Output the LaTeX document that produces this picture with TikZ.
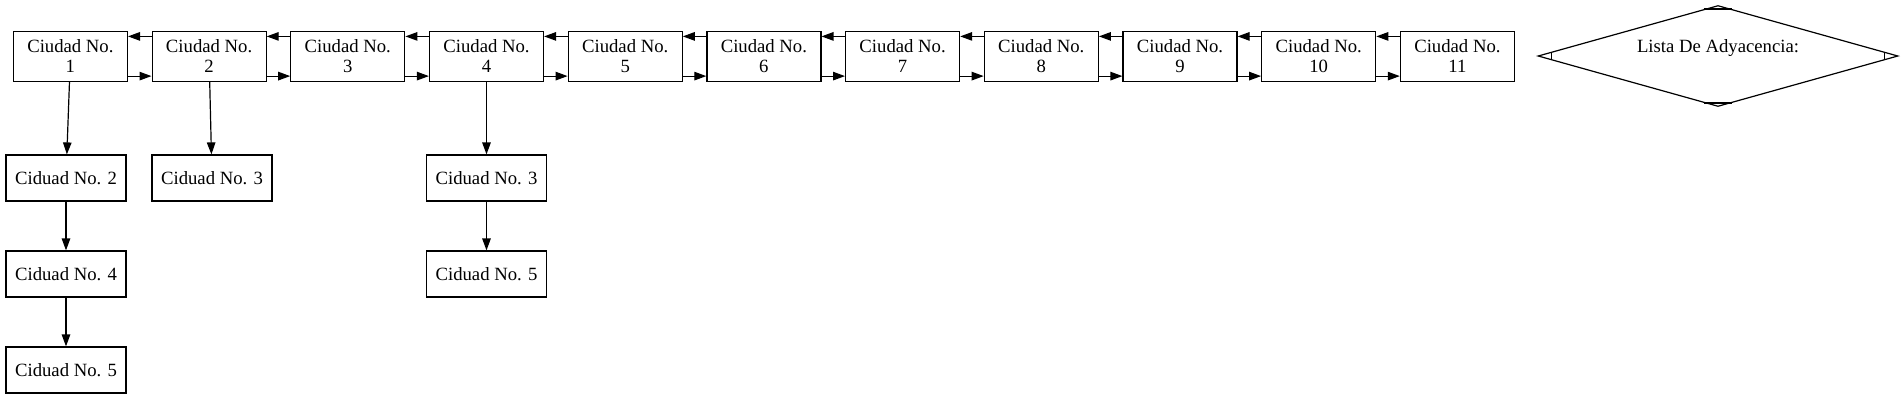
\documentclass[tikz,border=0pt]{standalone}
\usepackage{fontspec}
\setmainfont{Liberation Serif}
\usetikzlibrary{arrows.meta,shapes.geometric,calc}
\begin{document}
\begin{tikzpicture}[x=1pt,y=-1pt,
    ciudad/.style={shape=rectangle,draw=black,line width=1.2pt,minimum width=114pt,minimum height=50pt,inner sep=0pt,align=center,font=\fontsize{18.7}{20}\selectfont},
    vecino/.style={shape=rectangle,draw=black,line width=1.2pt,minimum width=120pt,minimum height=46pt,inner sep=0pt,font=\fontsize{18.7}{20}\selectfont},
    flecha/.style={-{Triangle[length=12pt,width=8.5pt]},line width=1.2pt}]
    \useasboundingbox (0,0) rectangle (1904,400);
    % lista principal
    \node[ciudad] (c1) at (70.4,56.5) {Ciudad No.\\1};
    \node[ciudad] (c2) at (209.1,56.5) {Ciudad No.\\2};
    \node[ciudad] (c3) at (347.8,56.5) {Ciudad No.\\3};
    \node[ciudad] (c4) at (486.5,56.5) {Ciudad No.\\4};
    \node[ciudad] (c5) at (625.2,56.5) {Ciudad No.\\5};
    \node[ciudad] (c6) at (763.9,56.5) {Ciudad No.\\6};
    \node[ciudad] (c7) at (902.6,56.5) {Ciudad No.\\7};
    \node[ciudad] (c8) at (1041.3,56.5) {Ciudad No.\\8};
    \node[ciudad] (c9) at (1180.0,56.5) {Ciudad No.\\9};
    \node[ciudad] (c10) at (1318.7,56.5) {Ciudad No.\\10};
    \node[ciudad] (c11) at (1457.4,56.5) {Ciudad No.\\11};
    % adyacentes
    \node[vecino] (v1a) at (66,178) {Ciduad No. 2};
    \node[vecino] (v1b) at (66,274) {Ciduad No. 4};
    \node[vecino] (v1c) at (66,370) {Ciduad No. 5};
    \node[vecino] (v2a) at (212,178) {Ciduad No. 3};
    \node[vecino] (v4a) at (486.5,178) {Ciduad No. 3};
    \node[vecino] (v4b) at (486.5,274) {Ciduad No. 5};
    % titulo
    \node[shape=diamond,draw=black,line width=1.2pt,aspect=3.56,minimum width=360pt,minimum height=101pt,inner sep=0pt,align=center,font=\fontsize{18.7}{20}\selectfont] (lista) at (1718,56) {Lista De Adyacencia:\\~};
    \draw[line width=1.2pt] ($(lista.west)!0.08!(lista.north)$) -- ($(lista.west)!0.08!(lista.south)$);
    \draw[line width=1.2pt] ($(lista.east)!0.08!(lista.north)$) -- ($(lista.east)!0.08!(lista.south)$);
    \draw[line width=1.2pt] ($(lista.north)!0.08!(lista.west)$) -- ($(lista.north)!0.08!(lista.east)$);
    \draw[line width=1.2pt] ($(lista.south)!0.08!(lista.west)$) -- ($(lista.south)!0.08!(lista.east)$);
    % enlaces
    \path [flecha] ([yshift=-5.5pt]c2.north west) edge ([yshift=-5.5pt]c1.north east);
    \path [flecha] ([yshift=6pt]c1.south east) edge ([yshift=6pt]c2.south west);
    \path [flecha] ([yshift=-5.5pt]c3.north west) edge ([yshift=-5.5pt]c2.north east);
    \path [flecha] ([yshift=6pt]c2.south east) edge ([yshift=6pt]c3.south west);
    \path [flecha] ([yshift=-5.5pt]c4.north west) edge ([yshift=-5.5pt]c3.north east);
    \path [flecha] ([yshift=6pt]c3.south east) edge ([yshift=6pt]c4.south west);
    \path [flecha] ([yshift=-5.5pt]c5.north west) edge ([yshift=-5.5pt]c4.north east);
    \path [flecha] ([yshift=6pt]c4.south east) edge ([yshift=6pt]c5.south west);
    \path [flecha] ([yshift=-5.5pt]c6.north west) edge ([yshift=-5.5pt]c5.north east);
    \path [flecha] ([yshift=6pt]c5.south east) edge ([yshift=6pt]c6.south west);
    \path [flecha] ([yshift=-5.5pt]c7.north west) edge ([yshift=-5.5pt]c6.north east);
    \path [flecha] ([yshift=6pt]c6.south east) edge ([yshift=6pt]c7.south west);
    \path [flecha] ([yshift=-5.5pt]c8.north west) edge ([yshift=-5.5pt]c7.north east);
    \path [flecha] ([yshift=6pt]c7.south east) edge ([yshift=6pt]c8.south west);
    \path [flecha] ([yshift=-5.5pt]c9.north west) edge ([yshift=-5.5pt]c8.north east);
    \path [flecha] ([yshift=6pt]c8.south east) edge ([yshift=6pt]c9.south west);
    \path [flecha] ([yshift=-5.5pt]c10.north west) edge ([yshift=-5.5pt]c9.north east);
    \path [flecha] ([yshift=6pt]c9.south east) edge ([yshift=6pt]c10.south west);
    \path [flecha] ([yshift=-5.5pt]c11.north west) edge ([yshift=-5.5pt]c10.north east);
    \path [flecha] ([yshift=6pt]c10.south east) edge ([yshift=6pt]c11.south west);
    \path [flecha] (c1) edge (v1a);
    \path [flecha] (v1a) edge (v1b);
    \path [flecha] (v1b) edge (v1c);
    \path [flecha] (c2) edge (v2a);
    \path [flecha] (c4) edge (v4a);
    \path [flecha] (v4a) edge (v4b);
\end{tikzpicture}
\end{document}
